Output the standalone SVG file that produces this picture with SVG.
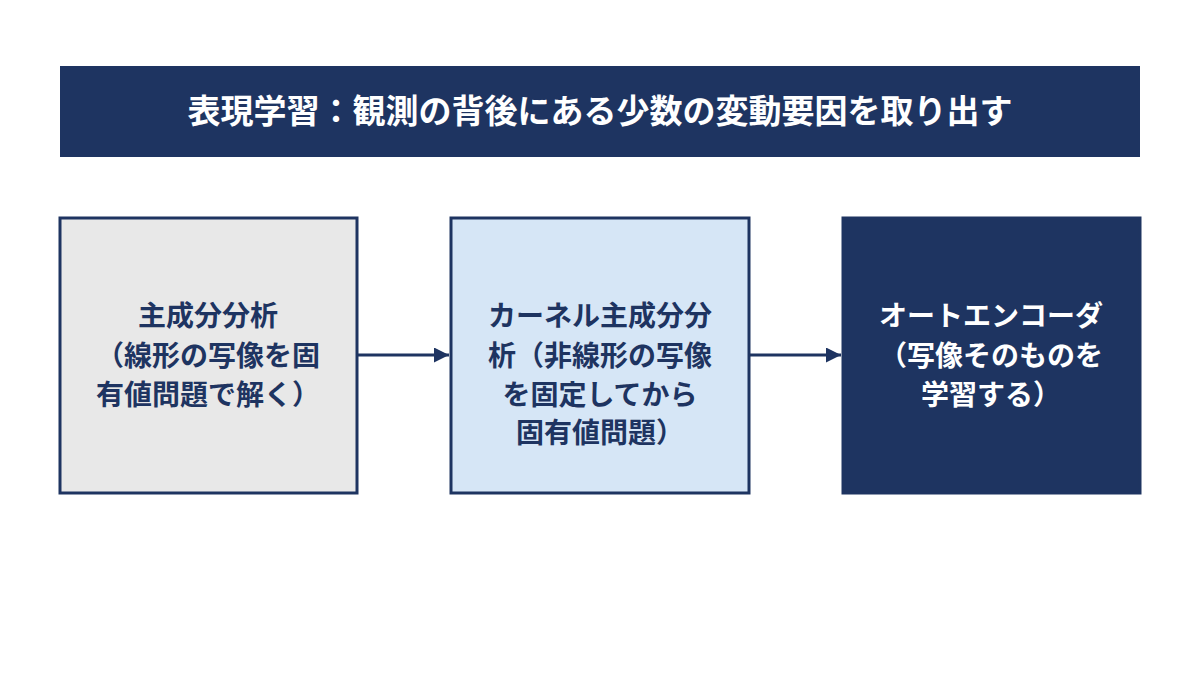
<svg xmlns="http://www.w3.org/2000/svg" width="1200" height="675" viewBox="0 0 1200 675">
<defs>
<style>
text{font-family:"Noto Sans CJK JP","Noto Sans",sans-serif;font-weight:bold;text-anchor:middle}
.t{font-size:33px;fill:#fff}
.n{font-size:28px}
.d{fill:#1e3461}
.w{fill:#fff}
.box{stroke:#1e3461;stroke-width:3}
.c{stroke:#1e3461;stroke-width:3;fill:none}
</style>
<marker id="ah" viewBox="0 0 10 10" refX="10" refY="5" markerWidth="5" markerHeight="5" orient="auto"><path d="M0,0L10,5L0,10z" fill="#1e3461"/></marker>
</defs>
<rect width="1200" height="675" fill="#fff"/>
<g id="title"><rect x="60" y="66" width="1080" height="91" fill="#1e3461"/><text class="t" x="600" y="123">表現学習：観測の背後にある少数の変動要因を取り出す</text></g>
<g id="pca"><rect class="box" x="60" y="218" width="297" height="275" fill="#e8e8e8"/>
<text class="n d" x="208" y="326">主成分分析</text><text class="n d" x="208" y="366">（線形の写像を固</text><text class="n d" x="208" y="405">有値問題で解く）</text></g>
<g id="kpca"><rect class="box" x="451" y="218" width="298" height="275" fill="#d6e6f6"/>
<text class="n d" x="600" y="326">カーネル主成分分</text><text class="n d" x="600" y="366">析（非線形の写像</text><text class="n d" x="600" y="405">を固定してから</text><text class="n d" x="600" y="443">固有値問題）</text></g>
<g id="ae"><rect class="box" x="843" y="218" width="297" height="275" fill="#1e3461"/>
<text class="n w" x="991" y="326">オートエンコーダ</text><text class="n w" x="991" y="366">（写像そのものを</text><text class="n w" x="991" y="405">学習する）</text></g>
<g id="connectors"><line class="c" x1="358" y1="355" x2="449" y2="355" marker-end="url(#ah)"/><line class="c" x1="750" y1="355" x2="841" y2="355" marker-end="url(#ah)"/></g>
</svg>
